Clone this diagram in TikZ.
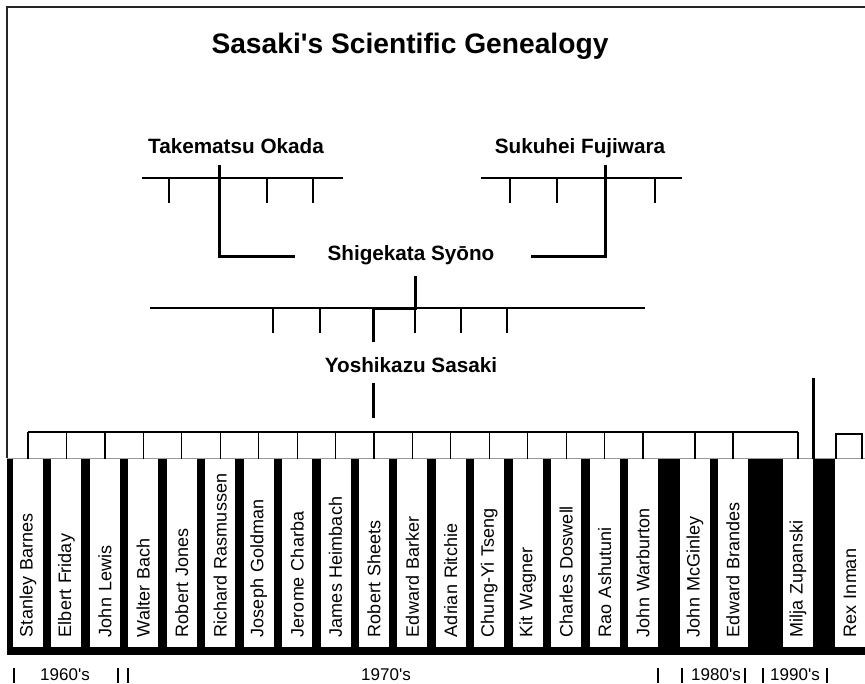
\documentclass[tikz,border=0pt]{standalone}
\usepackage{fontspec}
\setmainfont{Liberation Sans}
\usepackage{tikz}
\pgfmathsetmacro{\boxmid}{553}
\pgfmathsetmacro{\tickdrop}{25}

\begin{document}
\begin{tikzpicture}[x=1pt, y=-1pt,
    thinline/.style={line width=1.2pt},
    thickline/.style={line width=3pt},
    titletext/.style={font=\fontsize{28.2}{34}\selectfont\bfseries, anchor=base, inner sep=0},
    bigname/.style={font=\fontsize{20.7}{25}\selectfont\bfseries, anchor=base, inner sep=0},
    namebox/.style={rotate=90, fill=white, text width=168pt, align=left,
        inner xsep=10pt, inner ysep=0pt, minimum height=30pt,
        font=\fontsize{18}{21}\selectfont},
    decade/.style={font=\fontsize{17}{20}\selectfont, anchor=base, inner sep=0},
]
\useasboundingbox (0,0) rectangle (865,683);
    % frame and black band
    \draw[line width=1.3pt, black!85] (7,458) -- (7,7) -- (865,7);
    \fill[black] (7,458) rectangle (865,655);
    \draw[black!40, line width=0.8pt] (7,458) -- (865,458);
    % title
    \node[titletext] (title) at (410,53) {Sasaki\textquotesingle s Scientific Genealogy};
    % define names
    \node[bigname] (okada) at (236,153) {Takematsu Okada};
    \node[bigname] (fujiwara) at (580,153) {Sukuhei Fujiwara};
    \node[bigname] (syono) at (411,260) {Shigekata Syōno};
    \node[bigname] (sasaki) at (411,372) {Yoshikazu Sasaki};
    % define vertices
    % okada
    \coordinate (okada_bar_l) at (142,178);
    \coordinate (okada_bar_r) at (343,178);
    \coordinate (okada_top) at (219,165);
    \coordinate (okada_corner) at (219,256);
    \coordinate (syono_in_l) at (295,256);
    % fujiwara
    \coordinate (fujiwara_bar_l) at (481,178);
    \coordinate (fujiwara_bar_r) at (682,178);
    \coordinate (fujiwara_top) at (605,165);
    \coordinate (fujiwara_corner) at (605,256);
    \coordinate (syono_in_r) at (531,256);
    % syono
    \coordinate (syono_bar_l) at (150,308);
    \coordinate (syono_bar_r) at (645,308);
    \coordinate (syono_top) at (415,276);
    \coordinate (syono_corner) at (415,308);
    \coordinate (sasaki_corner) at (373,308);
    \coordinate (sasaki_in) at (373,342);
    % sasaki
    \coordinate (sasaki_out) at (373,383);
    \coordinate (sasaki_end) at (373,418);
    \coordinate (bracket_y) at (0,432);
    % students
    \node[namebox] (student_1) at (28,\boxmid) {Stanley Barnes};
    \node[namebox] (student_2) at (66.4,\boxmid) {Elbert Friday};
    \node[namebox] (student_3) at (104.9,\boxmid) {John Lewis};
    \node[namebox] (student_4) at (143.3,\boxmid) {Walter Bach};
    \node[namebox] (student_5) at (181.8,\boxmid) {Robert Jones};
    \node[namebox] (student_6) at (220.2,\boxmid) {Richard Rasmussen};
    \node[namebox] (student_7) at (258.6,\boxmid) {Joseph Goldman};
    \node[namebox] (student_8) at (297.1,\boxmid) {Jerome Charba};
    \node[namebox] (student_9) at (335.5,\boxmid) {James Heimbach};
    \node[namebox] (student_10) at (374,\boxmid) {Robert Sheets};
    \node[namebox] (student_11) at (412.4,\boxmid) {Edward Barker};
    \node[namebox] (student_12) at (450.8,\boxmid) {Adrian Ritchie};
    \node[namebox] (student_13) at (489.3,\boxmid) {Chung-Yi Tseng};
    \node[namebox] (student_14) at (527.7,\boxmid) {Kit Wagner};
    \node[namebox] (student_15) at (566.2,\boxmid) {Charles Doswell};
    \node[namebox] (student_16) at (604.6,\boxmid) {Rao Ashutuni};
    \node[namebox] (student_17) at (643,\boxmid) {John Warburton};
    \node[namebox] (student_18) at (695,\boxmid) {John McGinley};
    \node[namebox] (student_19) at (733,\boxmid) {Edward Brandes};
    \node[namebox] (student_20) at (798,\boxmid) {Milja Zupanski};
    \node[namebox] (student_21) at (850,\boxmid) {Rex Inman};
    \coordinate (milja_top) at (813,378);
    \coordinate (rex_l) at (836,434);
    \coordinate (rex_r) at (862,434);
    % draw trees
    \draw[thinline] (okada_bar_l) -- (okada_bar_r)
        (169,178) -- ++(0,\tickdrop) (267,178) -- ++(0,\tickdrop) (313,178) -- ++(0,\tickdrop);
    \draw[thickline] (okada_top) -- (okada_corner) -- (syono_in_l);
    \draw[thinline] (fujiwara_bar_l) -- (fujiwara_bar_r)
        (510,178) -- ++(0,\tickdrop) (557,178) -- ++(0,\tickdrop) (655,178) -- ++(0,\tickdrop);
    \draw[thickline] (fujiwara_top) -- (fujiwara_corner) -- (syono_in_r);
    \draw[thinline] (syono_bar_l) -- (syono_bar_r)
        (273,308) -- ++(0,\tickdrop) (320,308) -- ++(0,\tickdrop) (415,308) -- ++(0,\tickdrop)
        (461,308) -- ++(0,\tickdrop) (507,308) -- ++(0,\tickdrop);
    \draw[thickline] (syono_top) -- (syono_corner) -- (sasaki_corner) -- (sasaki_in);
    \draw[thickline] (sasaki_out) -- (sasaki_end);
    % draw student brackets
    \draw[thinline] (student_1.east |- bracket_y) -- (student_20.east |- bracket_y)
        (student_1.east |- bracket_y) -- (student_1.east)
        (student_2.east |- bracket_y) -- (student_2.east)
        (student_3.east |- bracket_y) -- (student_3.east)
        (student_4.east |- bracket_y) -- (student_4.east)
        (student_5.east |- bracket_y) -- (student_5.east)
        (student_6.east |- bracket_y) -- (student_6.east)
        (student_7.east |- bracket_y) -- (student_7.east)
        (student_8.east |- bracket_y) -- (student_8.east)
        (student_9.east |- bracket_y) -- (student_9.east)
        (student_10.east |- bracket_y) -- (student_10.east)
        (student_11.east |- bracket_y) -- (student_11.east)
        (student_12.east |- bracket_y) -- (student_12.east)
        (student_13.east |- bracket_y) -- (student_13.east)
        (student_14.east |- bracket_y) -- (student_14.east)
        (student_15.east |- bracket_y) -- (student_15.east)
        (student_16.east |- bracket_y) -- (student_16.east)
        (student_17.east |- bracket_y) -- (student_17.east)
        (student_18.east |- bracket_y) -- (student_18.east)
        (student_19.east |- bracket_y) -- (student_19.east)
        (student_20.east |- bracket_y) -- (student_20.east);
    \draw[thickline] (milja_top) -- (milja_top |- student_20.east);
    \draw[thinline] (rex_l |- student_21.east) -- (rex_l) -- (rex_r) -- (rex_r |- student_21.east);
    % add decades
    \draw[line width=1.5pt] (14,668) -- ++(0,15) (118,668) -- ++(0,15) (128,668) -- ++(0,15)
        (658,668) -- ++(0,15) (682,668) -- ++(0,15) (745,668) -- ++(0,15)
        (763,668) -- ++(0,15) (827,668) -- ++(0,15);
    \node[decade] (sixties) at (65,680) {1960\textquotesingle s};
    \node[decade] (seventies) at (386,680) {1970\textquotesingle s};
    \node[decade] (eighties) at (716,680) {1980\textquotesingle s};
    \node[decade] (nineties) at (795,680) {1990\textquotesingle s};
\end{tikzpicture}
\end{document}
